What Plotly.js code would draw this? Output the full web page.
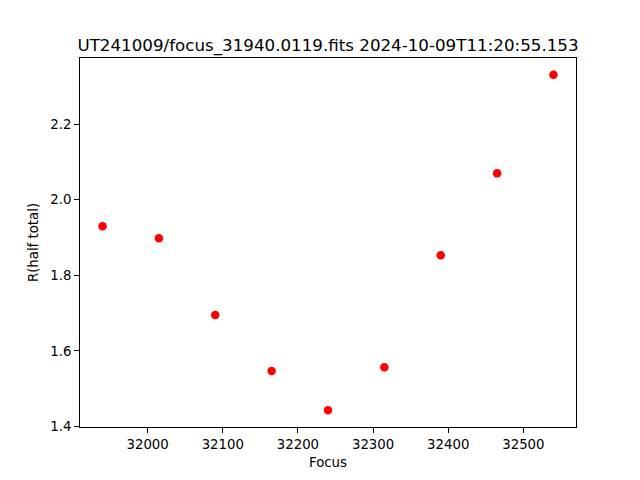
<!DOCTYPE html>
<html>
<head>
<meta charset="utf-8">
<script src="https://cdn.plot.ly/plotly-3.0.1.min.js"></script>
<style>html,body{margin:0;padding:0;background:#fff;}#chart{width:640px;height:480px;}</style>
</head>
<body>
<div id="chart"></div>
<script>
const titleText = "UT241009/focus_31940.0119.fits 2024-10-09T11:20:55.153";
const focus = [31940, 32015, 32090, 32165, 32240, 32315, 32390, 32465, 32540];
const rHalf = [1.930, 1.898, 1.695, 1.547, 1.443, 1.557, 1.853, 2.070, 2.331];
const xLabel = "Focus";
const yLabel = "R(half total)";

function padRange(arr) {
  const mn = Math.min(...arr), mx = Math.max(...arr);
  const d = (mx - mn) * 0.05;
  return [mn - d, mx + d];
}

const font = {family: "DejaVu Sans", size: 13.3, color: "#000"};

const trace = {
  x: focus, y: rHalf, type: "scatter", mode: "markers",
  marker: {color: "#ff0000", size: 8.5, line: {width: 0}},
  cliponaxis: false, hoverinfo: "none"
};

const axisCommon = {
  showgrid: false, zeroline: false, showline: true, mirror: true,
  linecolor: "#000", linewidth: 1, ticks: "outside", ticklen: 4.9,
  tickwidth: 1, tickcolor: "#000", tickfont: font
};

const layout = {
  width: 640, height: 480,
  margin: {l: 80, r: 64, t: 57.6, b: 52.8, pad: 0},
  paper_bgcolor: "#fff", plot_bgcolor: "#fff",
  font: font, showlegend: false,
  title: {text: titleText, font: {family: "DejaVu Sans", size: 16.7, color: "#000"},
          x: 0.5, xref: "paper", y: 1, yref: "paper", yanchor: "bottom", xanchor: "center",
          pad: {b: 7}},
  xaxis: Object.assign({}, axisCommon, {
    range: padRange(focus), tickmode: "linear", tick0: 32000, dtick: 100,
    tickformat: "d", title: {text: xLabel, font: font, standoff: 6}
  }),
  yaxis: Object.assign({}, axisCommon, {
    range: padRange(rHalf), tickmode: "linear", tick0: 1.4, dtick: 0.2,
    tickformat: ".1f", title: {text: yLabel, font: font, standoff: 8}
  })
};

Plotly.newPlot("chart", [trace], layout, {staticPlot: true, displayModeBar: false});
</script>
</body>
</html>
